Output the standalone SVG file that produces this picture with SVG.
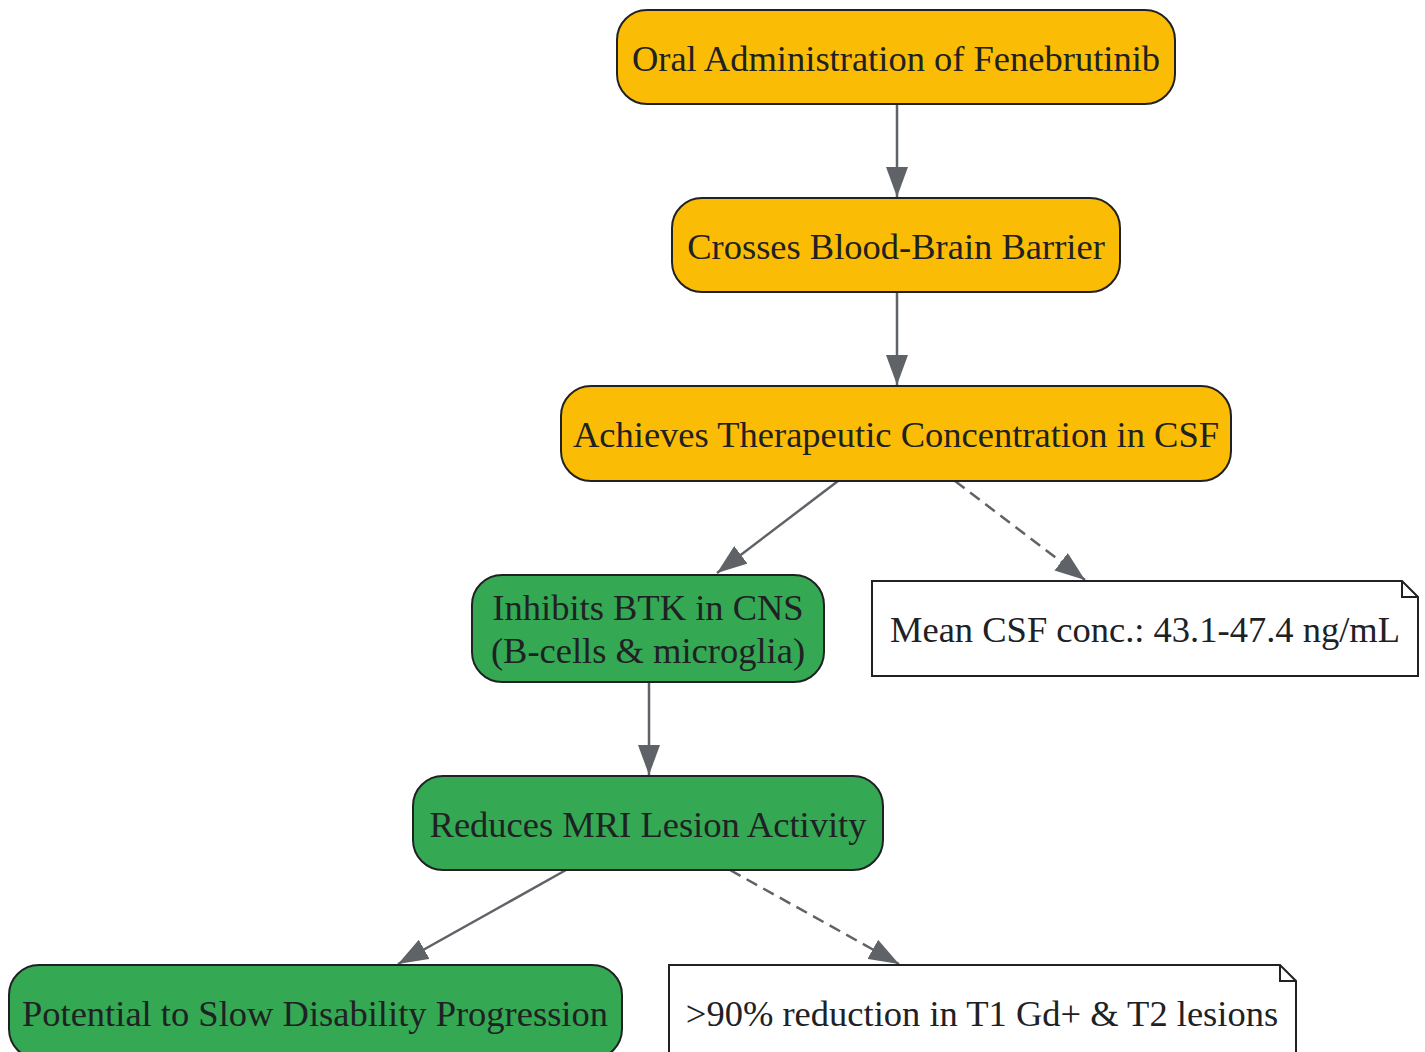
<svg xmlns="http://www.w3.org/2000/svg" width="1425" height="1052" viewBox="0 0 1425 1052">
<style>
  .node { stroke: #202124; stroke-width: 2; }
  .yellow { fill: #FBBC05; }
  .green { fill: #34A853; }
  .note { fill: #FFFFFF; stroke: #202124; stroke-width: 2; }
  .lbl { font-family: "Liberation Serif", "Times New Roman", serif; font-size: 36.5px; fill: #202124; text-anchor: middle; }
  .edge { fill: none; stroke: #5F6368; stroke-width: 2.5; }
  .dashed { stroke-dasharray: 12 7; }
</style>
<defs>
  <marker id="arrow" markerUnits="userSpaceOnUse" markerWidth="30" markerHeight="22" refX="30" refY="11" orient="auto">
    <path d="M0,0 L30,11 L0,22 Z" fill="#5F6368"/>
  </marker>
</defs>
<rect width="1425" height="1052" fill="#FFFFFF"/>
<g id="edges">
  <line class="edge" x1="897" y1="104" x2="897" y2="197" marker-end="url(#arrow)"/>
  <line class="edge" x1="897" y1="292" x2="897" y2="385" marker-end="url(#arrow)"/>
  <line class="edge" x1="838" y1="481" x2="717" y2="573" marker-end="url(#arrow)"/>
  <line class="edge dashed" x1="955" y1="481" x2="1085" y2="580" marker-end="url(#arrow)"/>
  <line class="edge" x1="649" y1="682" x2="649" y2="775" marker-end="url(#arrow)"/>
  <line class="edge" x1="566" y1="870" x2="398" y2="964" marker-end="url(#arrow)"/>
  <line class="edge dashed" x1="730" y1="870" x2="899" y2="964" marker-end="url(#arrow)"/>
</g>
<g id="node-oral">
  <rect class="node yellow" x="617" y="10" width="558" height="94" rx="30" ry="30"/>
  <text class="lbl" x="896" y="71">Oral Administration of Fenebrutinib</text>
</g>
<g id="node-bbb">
  <rect class="node yellow" x="672" y="198" width="448" height="94" rx="30" ry="30"/>
  <text class="lbl" x="896" y="259">Crosses Blood-Brain Barrier</text>
</g>
<g id="node-csf">
  <rect class="node yellow" x="561" y="386" width="670" height="95" rx="30" ry="30"/>
  <text class="lbl" x="896" y="447">Achieves Therapeutic Concentration in CSF</text>
</g>
<g id="node-btk">
  <rect class="node green" x="472" y="575" width="352" height="107" rx="30" ry="30"/>
  <text class="lbl" x="648" y="620">Inhibits BTK in CNS</text>
  <text class="lbl" x="648" y="663">(B-cells &amp; microglia)</text>
</g>
<g id="note-csf">
  <path class="note" d="M872,581 L1402,581 L1418,597 L1418,676 L872,676 Z"/>
  <path d="M1402,581 L1402,597 L1418,597" fill="none" stroke="#202124" stroke-width="2"/>
  <text class="lbl" x="1145" y="642">Mean CSF conc.: 43.1-47.4 ng/mL</text>
</g>
<g id="node-mri">
  <rect class="node green" x="413" y="776" width="470" height="94" rx="30" ry="30"/>
  <text class="lbl" x="648" y="837">Reduces MRI Lesion Activity</text>
</g>
<g id="node-disability">
  <rect class="node green" x="9" y="965" width="613" height="94" rx="30" ry="30"/>
  <text class="lbl" x="315" y="1026">Potential to Slow Disability Progression</text>
</g>
<g id="note-lesions">
  <path class="note" d="M669,965 L1280,965 L1296,981 L1296,1060 L669,1060 Z"/>
  <path d="M1280,965 L1280,981 L1296,981" fill="none" stroke="#202124" stroke-width="2"/>
  <text class="lbl" x="982" y="1026">&gt;90% reduction in T1 Gd+ &amp; T2 lesions</text>
</g>
</svg>
